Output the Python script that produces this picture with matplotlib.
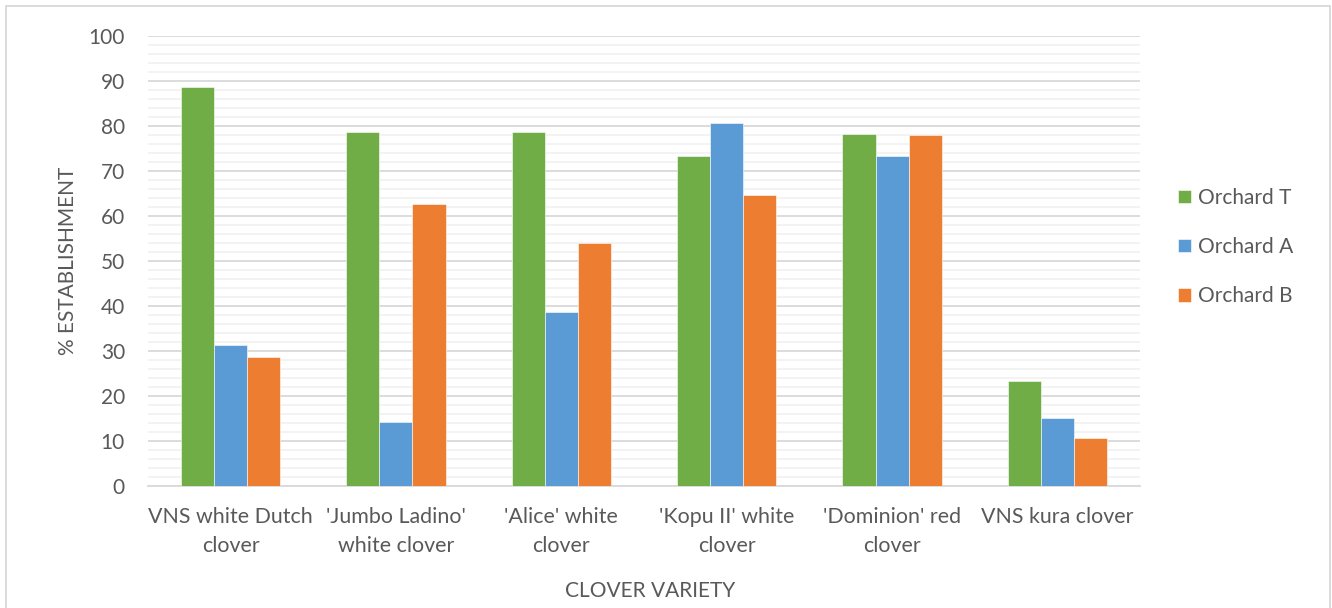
import numpy as np
import matplotlib.pyplot as plt
from matplotlib.patches import Rectangle
from matplotlib.ticker import MultipleLocator

plt.rcParams['font.family'] = ['Lato', 'DejaVu Sans']

varieties = ["VNS white Dutch\nclover", "'Jumbo Ladino'\nwhite clover", "'Alice' white\nclover",
             "'Kopu II' white\nclover", "'Dominion' red\nclover", "VNS kura clover"]
orchard_t = [88.6, 78.7, 78.7, 73.3, 78.3, 23.3]
orchard_a = [31.3, 14.3, 38.7, 80.7, 73.3, 15.0]
orchard_b = [28.7, 62.7, 54.0, 64.7, 78.0, 10.7]

series = [("Orchard T", orchard_t, "#70AD47"),
          ("Orchard A", orchard_a, "#5B9BD5"),
          ("Orchard B", orchard_b, "#ED7D31")]

grey = "#595959"
fs = 15
fig = plt.figure(figsize=(13.32, 6.08), dpi=100)
ax = fig.add_axes([0.111, 0.2007, 0.745, 0.7401])

x = np.arange(len(varieties))
w = 0.2
for i, (name, vals, col) in enumerate(series):
    ax.bar(x + (i - 1) * w, vals, w, color=col, label=name, zorder=3,
           edgecolor="white", linewidth=0.4)

ax.set_xlim(-0.5, len(varieties) - 0.5)
ax.set_ylim(0, 100)
ax.yaxis.set_major_locator(MultipleLocator(10))
ax.yaxis.set_minor_locator(MultipleLocator(2))
ax.grid(axis="y", which="major", color="#D9D9D9", linewidth=1.3, zorder=0)
ax.grid(axis="y", which="minor", color="#F2F2F2", linewidth=1.3, zorder=0)
for s in ["top", "right", "left"]:
    ax.spines[s].set_visible(False)
ax.spines["bottom"].set_color("#D9D9D9")
ax.spines["bottom"].set_linewidth(1.3)
ax.tick_params(axis="both", which="both", length=0, labelsize=fs, labelcolor=grey)
ax.tick_params(axis="y", pad=16.5)
ax.tick_params(axis="x", pad=15)
ax.set_xticks(x)
ax.set_xticklabels(varieties, linespacing=1.58, fontsize=15.4)

ax.set_ylabel("% ESTABLISHMENT", fontsize=fs, color=grey, va="center")
ax.yaxis.set_label_coords(-0.0806, 0.5)
ax.set_xlabel("CLOVER VARIETY", fontsize=fs, color=grey, va="center")
ax.xaxis.set_label_coords(0.506, -0.233)

ax.legend(loc="center left", bbox_to_anchor=(1178 / 1332, 0.594),
          bbox_transform=fig.transFigure, frameon=False, borderpad=0,
          borderaxespad=0, fontsize=fs, labelcolor=grey, handlelength=0.63,
          handleheight=0.63, labelspacing=1.4, handletextpad=0.35)

fig.patches.append(Rectangle((6 / 1332, -0.05), 1324 / 1332, 1.05 - 6 / 608,
                             transform=fig.transFigure, fill=False,
                             edgecolor="#D9D9D9", linewidth=1.3))

fig.savefig("out.png", dpi=100)
